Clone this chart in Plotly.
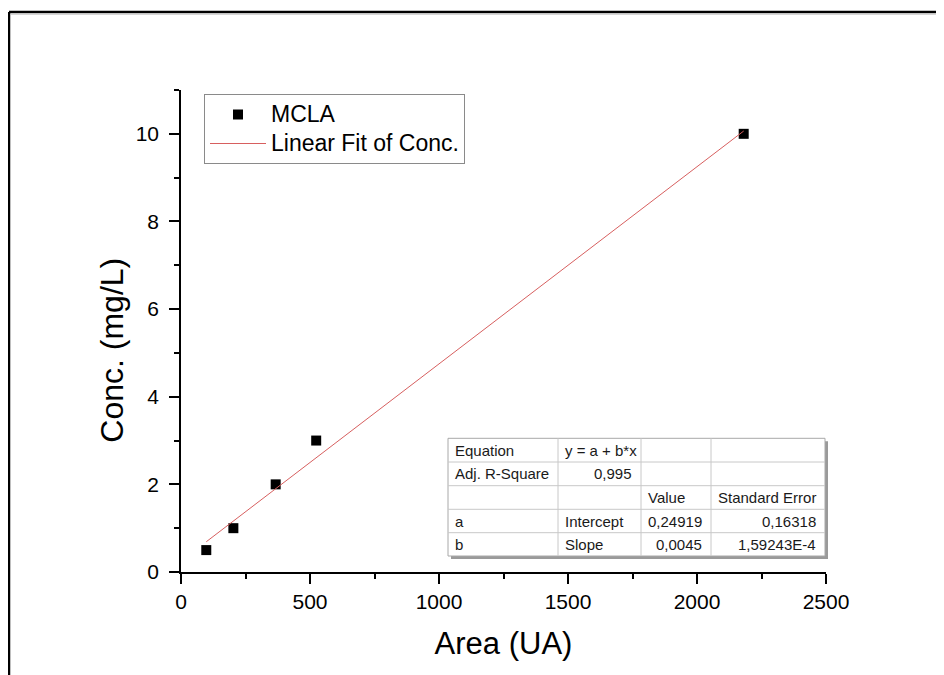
import plotly.graph_objects as go

# ---- data ----
area = [98, 203, 367, 524, 2181]
conc = [0.5, 1, 2, 3, 10]
fit_intercept = 0.24919
fit_slope = 0.0045

x_tick_vals = [0, 500, 1000, 1500, 2000, 2500]
y_tick_vals = [0, 2, 4, 6, 8, 10]

series_names = ["MCLA", "Linear Fit of Conc."]
x_title = "Area (UA)"
y_title = "Conc. (mg/L)"

table_rows = [
    ["Equation", "y = a + b*x", "", ""],
    ["Adj. R-Square", "0,995", "", ""],
    ["", "", "Value", "Standard Error"],
    ["a", "Intercept", "0,24919", "0,16318"],
    ["b", "Slope", "0,0045", "1,59243E-4"],
]
table_align = [
    ["left", "left", "left", "left"],
    ["left", "right", "left", "left"],
    ["left", "left", "left", "left"],
    ["left", "left", "right", "right"],
    ["left", "left", "right", "right"],
]

# page geometry (the page body has an 8px margin)
PAGE_W, PAGE_H = 944, 675
OFF = 8
W, H = PAGE_W - OFF, PAGE_H - OFF
PL, PR, PT, PB = 181, 826, 90, 572          # plot area in page pixels
L, T = PL - OFF, PT - OFF
R = W - (PR - OFF)
B = H - (PB - OFF)
PW, PH = W - L - R, H - T - B

def px(X):  # page x -> paper
    return (X - OFF - L) / PW

def py(Y):  # page y -> paper
    return (H - B - (Y - OFF)) / PH

FONT = "Liberation Sans, Arial, sans-serif"

fig = go.Figure()
fit_x = [min(area), max(area)]
fit_y = [fit_intercept + fit_slope * v for v in fit_x]

fig.add_trace(go.Scatter(
    x=area, y=conc, mode="markers",
    name="<span style='font-size:23px'>%s</span>" % series_names[0],
    marker=dict(symbol="square", size=10, color="black"),
))
fig.add_trace(go.Scatter(
    x=fit_x, y=fit_y, mode="lines",
    name="<span style='font-size:23px'>%s</span>" % series_names[1],
    line=dict(color="rgb(215,95,95)", width=1),
))

axis_common = dict(
    showline=True, linecolor="black", linewidth=1.5,
    ticks="outside", ticklen=10, tickwidth=1.5, tickcolor="black",
    showgrid=False, zeroline=False, mirror=False,
    tickfont=dict(family=FONT, size=21, color="black"),
)
fig.update_xaxes(
    range=[0, 2500], tickvals=x_tick_vals,
    minor=dict(dtick=250, tick0=0, ticks="outside", ticklen=5, tickwidth=1.5, tickcolor="black"),
    title=dict(text=x_title, font=dict(family=FONT, size=31, color="black"), standoff=20),
    **axis_common,
)
fig.update_yaxes(
    range=[0, 11], tickvals=y_tick_vals, ticklabelstandoff=6,
    minor=dict(dtick=1, tick0=0, ticks="outside", ticklen=5, tickwidth=1.5, tickcolor="black"),
    **axis_common,
)

shapes = []
annotations = []

# y-axis title
annotations.append(dict(
    text=y_title, xref="paper", yref="paper", x=px(111.7), y=py(350),
    xanchor="center", yanchor="middle", textangle=-90, showarrow=False,
    font=dict(family=FONT, size=32, color="black"),
))

# outer frame (top and left edges visible)
shapes.append(dict(type="line", xref="paper", yref="paper",
                   x0=px(9), x1=px(PAGE_W + 5), y0=py(12), y1=py(12),
                   line=dict(color="black", width=2.5)))
shapes.append(dict(type="line", xref="paper", yref="paper",
                   x0=px(9), x1=px(9), y0=py(12), y1=py(PAGE_H + 5),
                   line=dict(color="black", width=2.5)))
shapes.append(dict(type="line", xref="paper", yref="paper",
                   x0=px(11), x1=px(PAGE_W + 5), y0=py(14.2), y1=py(14.2),
                   line=dict(color="#c8c8c8", width=1.2)))

# results table
col_edges = [448, 558, 641, 711, 825]
row_edges = [438.3, 462.0, 485.7, 509.3, 532.7, 556.0]
tx0, tx1, ty0, ty1 = col_edges[0], col_edges[-1], row_edges[0], row_edges[-1]
shapes.append(dict(type="rect", xref="paper", yref="paper",
                   x0=px(tx0 + 3), x1=px(tx1 + 3), y0=py(ty0 + 3), y1=py(ty1 + 3),
                   line=dict(width=0), fillcolor="#9a9a9a"))
shapes.append(dict(type="rect", xref="paper", yref="paper",
                   x0=px(tx0), x1=px(tx1), y0=py(ty0), y1=py(ty1),
                   line=dict(color="#a8a8a8", width=1), fillcolor="white"))
for yy in row_edges[1:-1]:
    shapes.append(dict(type="line", xref="paper", yref="paper",
                       x0=px(tx0), x1=px(tx1), y0=py(yy), y1=py(yy),
                       line=dict(color="#c8c8c8", width=1)))
for xx in col_edges[1:-1]:
    shapes.append(dict(type="line", xref="paper", yref="paper",
                       x0=px(xx), x1=px(xx), y0=py(ty0), y1=py(ty1),
                       line=dict(color="#c8c8c8", width=1)))
for r, row in enumerate(table_rows):
    yc = (row_edges[r] + row_edges[r + 1]) / 2
    for c, txt in enumerate(row):
        if not txt:
            continue
        if table_align[r][c] == "left":
            xpos, xa = col_edges[c] + 5, "left"
        else:
            xpos, xa = col_edges[c + 1] - 7, "right"
        annotations.append(dict(
            text=txt, xref="paper", yref="paper", x=px(xpos), y=py(yc),
            xanchor=xa, yanchor="middle", showarrow=False,
            font=dict(family=FONT, size=15, color="#1a1a1a"),
        ))

fig.update_layout(
    width=W, height=H,
    margin=dict(l=L, r=R, t=T, b=B, pad=0),
    paper_bgcolor="white", plot_bgcolor="white",
    showlegend=True,
    legend=dict(
        x=px(204), y=py(94), xanchor="left", yanchor="top",
        bordercolor="#8a8a8a", borderwidth=1, bgcolor="white",
        font=dict(family=FONT, size=20, color="black"),
        itemwidth=56, tracegroupgap=0,
    ),
    shapes=shapes,
    annotations=annotations,
)

fig.write_html("out.html")
